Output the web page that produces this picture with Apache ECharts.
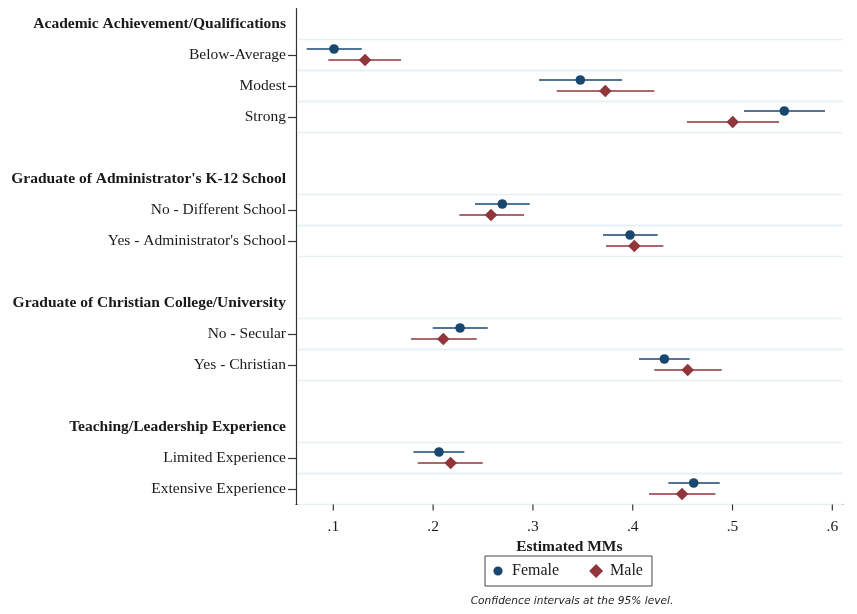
<!DOCTYPE html>
<html>
<head>
<meta charset="utf-8">
<script src="https://cdn.jsdelivr.net/npm/echarts@6/dist/echarts.min.js"></script>
<style>
  html, body { margin: 0; padding: 0; background: #ffffff; }
  #chart { width: 857px; height: 614px; }
</style>
</head>
<body>
<div id="chart"></div>
<script>
// Rows of the coefficient plot, top to bottom (blank strings are spacer rows)
const rowLabels = [
  'Academic Achievement/Qualifications',
  'Below-Average',
  'Modest',
  'Strong',
  '',
  "Graduate of Administrator's K-12 School",
  'No - Different School',
  "Yes - Administrator's School",
  ' ',
  'Graduate of Christian College/University',
  'No - Secular',
  'Yes - Christian',
  '  ',
  'Teaching/Leadership Experience',
  'Limited Experience',
  'Extensive Experience'
];
const groupHeaders = [
  'Academic Achievement/Qualifications',
  "Graduate of Administrator's K-12 School",
  'Graduate of Christian College/University',
  'Teaching/Leadership Experience'
];
const levels = [
  'Below-Average', 'Modest', 'Strong',
  'No - Different School', "Yes - Administrator's School",
  'No - Secular', 'Yes - Christian',
  'Limited Experience', 'Extensive Experience'
];

// Estimated marginal means with 95% confidence bounds
const femaleEst = [0.1007, 0.3475, 0.5519, 0.2693, 0.3973, 0.2270, 0.4317, 0.2059, 0.4611];
const femaleLo  = [0.0733, 0.3061, 0.5115, 0.2420, 0.3702, 0.1996, 0.4063, 0.1802, 0.4357];
const femaleHi  = [0.1285, 0.3893, 0.5927, 0.2968, 0.4250, 0.2547, 0.4571, 0.2313, 0.4872];
const maleEst   = [0.1318, 0.3725, 0.5002, 0.2580, 0.4016, 0.2102, 0.4551, 0.2176, 0.4494];
const maleLo    = [0.0950, 0.3238, 0.4544, 0.2263, 0.3732, 0.1779, 0.4216, 0.1846, 0.4163];
const maleHi    = [0.1678, 0.4216, 0.5466, 0.2911, 0.4307, 0.2437, 0.4892, 0.2497, 0.4828];

const tickValues = [0.1, 0.2, 0.3, 0.4, 0.5, 0.6];
const tickLabels = ['.1', '.2', '.3', '.4', '.5', '.6'];

const seriesNames = ['Female', 'Male'];
const footnote = 'Confidence intervals at the 95% level.';
const xTitle = 'Estimated MMs';

const X_MIN = 0.0626, X_MAX = 0.6104;
const NAVY = '#1a476f', MAROON = '#90353b';
const SERIF = '"Liberation Serif", "Times New Roman", serif';
const TEXT = '#1a1a1a';
const AXIS = '#333333';

const levelRows = levels.map(l => rowLabels.indexOf(l));

function buildData(lo, hi, est) {
  return levels.map((l, i) => [lo[i], hi[i], est[i], levelRows[i]]);
}

// Horizontal CI bar with a marker at the estimate; dy shifts it within the row
function ciRenderer(dy, shape) {
  return function (params, api) {
    const row = api.value(3);
    const a = api.coord([api.value(0), row]);
    const b = api.coord([api.value(1), row]);
    const m = api.coord([api.value(2), row]);
    const color = api.visual('color');
    const y = m[1] + dy;
    const marker = shape === 'circle'
      ? { type: 'circle', shape: { cx: m[0], cy: y, r: 4.8 }, style: { fill: color } }
      : { type: 'polygon', shape: { points: [[m[0], y - 6.3], [m[0] + 6.3, y], [m[0], y + 6.3], [m[0] - 6.3, y]] }, style: { fill: color } };
    return {
      type: 'group',
      children: [
        { type: 'line', shape: { x1: a[0], y1: y, x2: b[0], y2: y }, style: { stroke: color, lineWidth: 1.6 } },
        marker
      ]
    };
  };
}

// Light rules above and below every level row
function ruleRenderer(params, api) {
  const cs = params.coordSys;
  const row = api.value(0);
  const c = api.coord([X_MIN, row]);
  const h = api.size([0, 1])[1];
  const mk = yy => ({
    type: 'line',
    shape: { x1: cs.x + 1.5, y1: yy, x2: cs.x + cs.width, y2: yy },
    style: { stroke: '#e6eff1', lineWidth: 1.5 }
  });
  return { type: 'group', children: [mk(c[1] - h / 2), mk(c[1] + h / 2)] };
}

// Outward tick marks on the value axis at the labelled values only
function xTickRenderer(params, api) {
  const cs = params.coordSys;
  const p = api.coord([api.value(0), 0]);
  const y0 = cs.y + cs.height;
  return {
    type: 'line',
    shape: { x1: p[0], y1: y0, x2: p[0], y2: y0 + 6 },
    style: { stroke: AXIS, lineWidth: 1.2 }
  };
}

const chart = echarts.init(document.getElementById('chart'), null, { renderer: 'canvas' });

chart.setOption({
  animation: false,
  backgroundColor: '#ffffff',
  title: {
    text: footnote,
    left: 572,
    textAlign: 'center',
    top: 596,
    padding: 0,
    textStyle: { fontFamily: '"DejaVu Sans", sans-serif', fontStyle: 'italic', fontWeight: 'normal', fontSize: 10.6, color: '#222' }
  },
  legend: {
    left: 485,
    top: 556,
    padding: [7, 9, 7, 6],
    borderColor: '#444',
    borderWidth: 1,
    itemWidth: 14,
    itemHeight: 14,
    itemGap: 30,
    textStyle: { fontFamily: SERIF, fontSize: 16, color: TEXT, padding: [2, 0, 0, 2] },
    data: [
      { name: seriesNames[0], icon: 'path://M0,0h0.01v0.01h-0.01Z M14,14h-0.01v-0.01h0.01Z M11.6,7A4.6,4.6,0,1,1,2.4,7A4.6,4.6,0,1,1,11.6,7Z' },
      { name: seriesNames[1], icon: 'path://M7,0L14,7L7,14L0,7Z' }
    ]
  },
  grid: { left: 296, right: 14.3, top: 8.5, bottom: 109.5, containLabel: false },
  xAxis: {
    type: 'value',
    min: X_MIN,
    max: X_MAX,
    name: xTitle,
    nameLocation: 'middle',
    nameGap: 26,
    nameTextStyle: { fontFamily: SERIF, fontSize: 15.5, fontWeight: 'bold', color: TEXT },
    axisLine: { show: true, lineStyle: { color: AXIS, width: 1.2 } },
    axisTick: { show: false },
    axisLabel: {
      customValues: tickValues,
      formatter: v => tickLabels[tickValues.findIndex(t => Math.abs(t - v) < 1e-9)] || '',
      margin: 14,
      fontFamily: SERIF, fontSize: 15.5, color: TEXT
    },
    splitLine: { show: false }
  },
  yAxis: {
    type: 'category',
    inverse: true,
    data: rowLabels,
    axisLine: { show: true, lineStyle: { color: AXIS, width: 1.2 } },
    axisTick: {
      show: true,
      alignWithLabel: true,
      length: 8,
      interval: (i, v) => levels.indexOf(v) >= 0,
      lineStyle: { color: AXIS, width: 1.2 }
    },
    axisLabel: {
      interval: 0,
      margin: 10,
      fontFamily: SERIF,
      fontSize: 15.5,
      color: TEXT,
      formatter: v => groupHeaders.indexOf(v) >= 0 ? '{h|' + v + '}' : v,
      rich: { h: { fontFamily: SERIF, fontSize: 15.5, fontWeight: 'bold', color: TEXT } }
    },
    splitLine: { show: false }
  },
  series: [
    {
      type: 'custom',
      name: 'rules',
      silent: true,
      z: 1,
      renderItem: ruleRenderer,
      encode: { y: 0 },
      data: levelRows.map(r => [r])
    },
    {
      type: 'custom',
      name: 'xticks',
      silent: true,
      z: 1,
      clip: false,
      renderItem: xTickRenderer,
      encode: { x: 0 },
      data: tickValues.map(v => [v])
    },
    {
      type: 'custom',
      name: seriesNames[0],
      z: 3,
      itemStyle: { color: NAVY },
      renderItem: ciRenderer(-6, 'circle'),
      encode: { x: [0, 1, 2], y: 3 },
      data: buildData(femaleLo, femaleHi, femaleEst)
    },
    {
      type: 'custom',
      name: seriesNames[1],
      z: 2,
      itemStyle: { color: MAROON },
      renderItem: ciRenderer(5, 'diamond'),
      encode: { x: [0, 1, 2], y: 3 },
      data: buildData(maleLo, maleHi, maleEst)
    }
  ]
});
</script>
</body>
</html>
